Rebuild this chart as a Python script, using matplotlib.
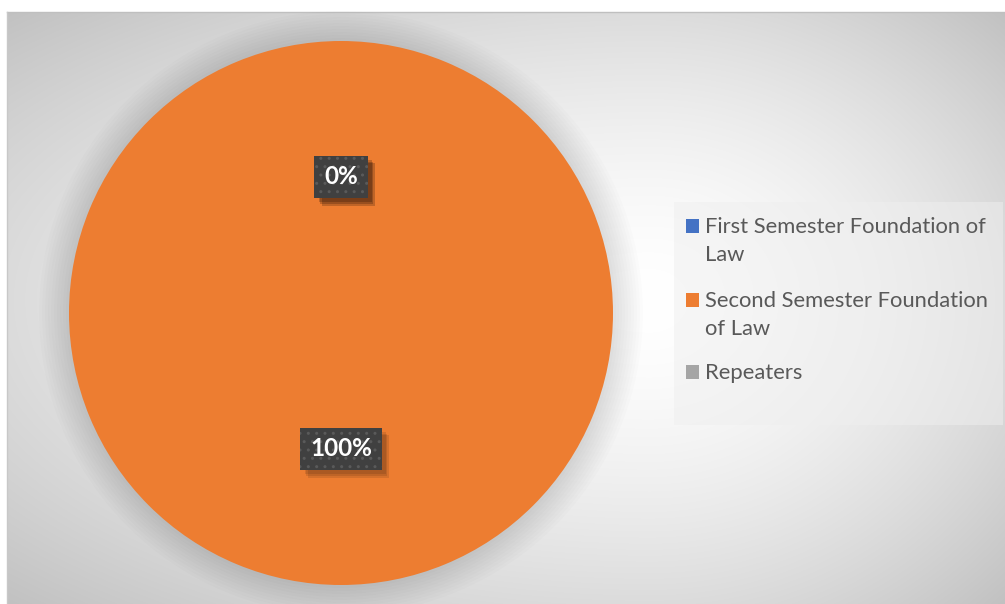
import textwrap
import numpy as np
import matplotlib
matplotlib.use("Agg")
import matplotlib.pyplot as plt
from matplotlib.patches import Circle, Rectangle
import matplotlib.patheffects as pe

# Student distribution by group
categories = ["First Semester Foundation of Law",
              "Second Semester Foundation of Law",
              "Repeaters"]
shares = [0, 100, 0]
colors = ["#4472C4", "#ED7D31", "#A5A5A5"]


class PlainShadow(pe.SimplePatchShadow):
    """Patch shadow without the patch's hatch pattern."""

    def draw_path(self, renderer, gc, tpath, affine, rgbFace):
        gc0 = renderer.new_gc()
        gc0.copy_properties(gc)
        gc0.set_hatch(None)
        super().draw_path(renderer, gc0, tpath, affine, rgbFace)
        gc0.restore()


W, H = 1005, 604
fig = plt.figure(figsize=(W / 100, H / 100), dpi=100)

# background panel with a soft radial gradient (pixel coordinates)
bg = fig.add_axes([0, 0, 1, 1], zorder=0)
bg.set_xlim(0, W)
bg.set_ylim(H, 0)
bg.axis("off")

x0, y0 = 7, 12
cx, cy = 650, 300
xs = np.arange(x0, W) + 0.5
ys = np.arange(y0, H) + 0.5
gx, gy = np.meshgrid(xs, ys)
dx = np.where(gx < cx, (cx - gx) / (cx - x0), (gx - cx) / (W - cx))
dy = np.where(gy < cy, (cy - gy) / (cy - y0), (gy - cy) / (H - cy))
t = np.clip(np.sqrt(dx ** 2 + dy ** 2) / np.sqrt(2), 0, 1)
g = (255 - 62 * t ** 1.6) / 255
bg.imshow(np.dstack([g, g, g]), extent=(x0, W, H, y0), aspect="auto",
          interpolation="bilinear")
bg.plot([x0, W], [y0, y0], color="#bfbfbf", lw=1)
bg.plot([x0, x0], [y0, H], color="#c8c8c8", lw=1)

# legend box drawn by hand so markers sit on the first text line
bg.add_patch(Rectangle((674, 202), 329, 223, facecolor="#efefef", alpha=0.5,
                       edgecolor="none"))
baselines = [233, 307, 379]
for lab, col, yb in zip(categories, colors, baselines):
    bg.add_patch(Rectangle((686, yb - 14), 13, 14, facecolor=col,
                           edgecolor="none"))
    for i, line in enumerate(textwrap.wrap(lab, 28)):
        bg.text(705, yb + i * 28, line, fontsize=15.8, family="Lato",
                color="#595959", va="baseline", ha="left")

# pie
pcx, pcy, r = 341, 313, 272
ax = fig.add_axes([(pcx - r) / W, (H - pcy - r) / H, 2 * r / W, 2 * r / H],
                  zorder=1)
ax.set_facecolor("none")

# soft halo under the pie
for k in range(10):
    ax.add_patch(Circle((0, 0), 1.0 + 0.011 * (k + 1), color="black",
                        alpha=0.013, lw=0, clip_on=False, zorder=0))

wedges, texts, autotexts = ax.pie(
    shares, colors=colors, startangle=90, counterclock=False,
    autopct="%1.0f%%", pctdistance=0.5,
    wedgeprops=dict(linewidth=0),
    textprops=dict(color="white", fontsize=17.5, fontweight="bold",
                   family="Lato"))
for w in wedges:
    w.set_zorder(1)
ax.set_xlim(-1, 1)
ax.set_ylim(-1, 1)
ax.set_aspect("equal")

shadow = [PlainShadow(offset=(o, -o), shadow_rgbFace="black", alpha=0.1)
          for o in (5.5, 4.2, 3.0)]
for at in autotexts:
    at.set_zorder(5)
    at.set_bbox(dict(boxstyle="square,pad=0.4", facecolor="#404040",
                     edgecolor="#5a5a5a", linewidth=0, hatch=".."))
    at.get_bbox_patch().set_path_effects(shadow + [pe.Normal()])

fig.savefig("out.png", dpi=100)
